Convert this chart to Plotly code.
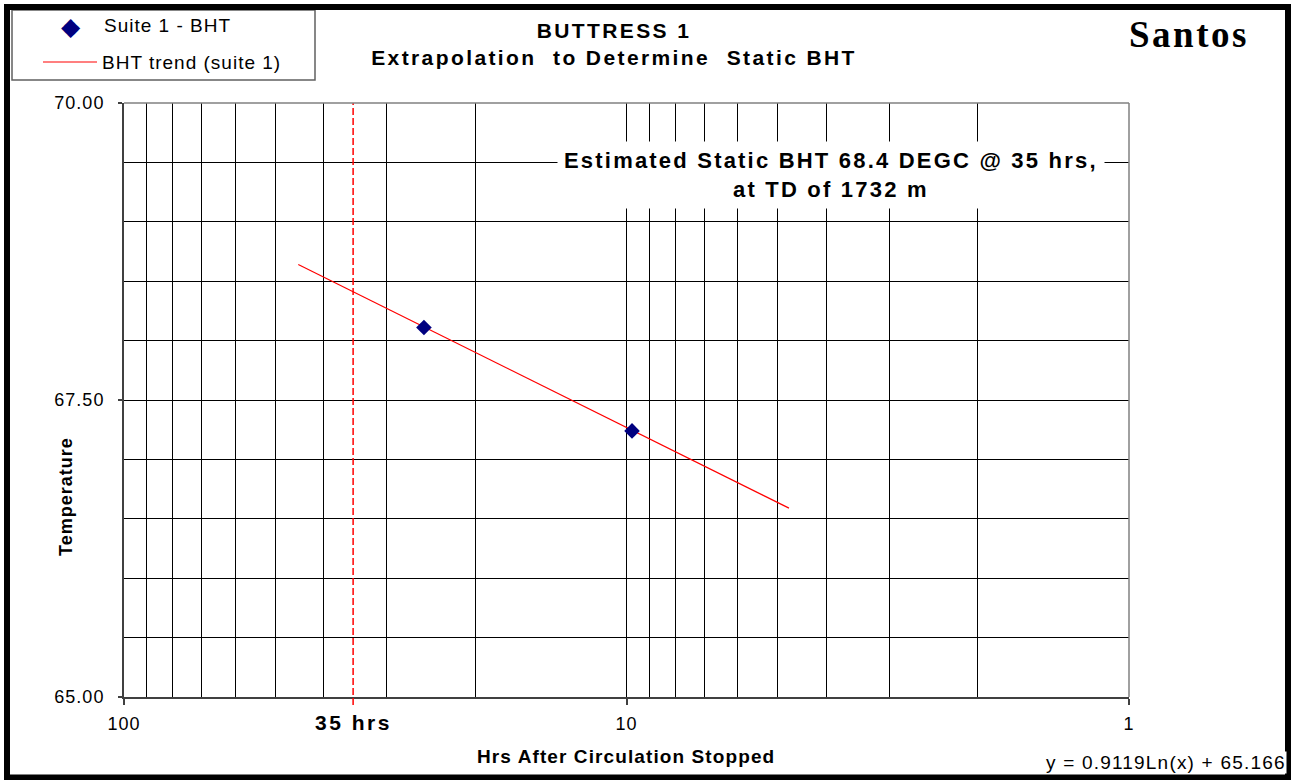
import plotly.graph_objects as go
import math

# ---- data ----
hrs = [25.3, 9.75]                 # Suite 1 - BHT : hours after circulation stopped
bht = [68.11, 67.24]               # Suite 1 - BHT : temperature (DEGC)
trend_hrs = [45.0, 4.75]           # BHT trend (suite 1) extent
trend_bht = [68.64, 66.59]
static_hrs = 35                    # extrapolation time
x_major = [100, 10, 1]
x_major_labels = ["100", "10", "1"]
x_minor = [90, 80, 70, 60, 50, 40, 30, 20, 9, 8, 7, 6, 5, 4, 3, 2]
y_major = [65.0, 67.5, 70.0]
y_major_labels = ["65.00", "67.50", "70.00"]
y_minor = [65.5, 66.0, 66.5, 67.0, 68.0, 68.5, 69.0, 69.5]

title_lines = ["BUTTRESS 1", "Extrapolation\u00a0 to Determine\u00a0 Static BHT"]
note_lines = ["Estimated Static BHT 68.4 DEGC @ 35 hrs,", "at TD of 1732 m"]
equation = "y = 0.9119Ln(x) + 65.166"

SANS = "Liberation Sans, Arial, sans-serif"
SERIF = "Liberation Serif, Times New Roman, serif"

W, H = 1293, 780
L, R, T, B = 124, 1129, 103, 697


def xp(px):
    return (px - L) / (R - L)


def yp(py):
    return (B - py) / (B - T)


def ls(text, px):
    return f"<span style='letter-spacing:{px}px'>{text}</span>"


fig = go.Figure()
fig.add_trace(go.Scatter(x=trend_hrs, y=trend_bht, mode="lines",
                         line=dict(color="#FF0000", width=1.2),
                         name="BHT trend (suite 1)", showlegend=False))
fig.add_trace(go.Scatter(x=hrs, y=bht, mode="markers",
                         marker=dict(symbol="diamond", size=12, color="#000080",
                                     line=dict(color="#000080", width=0)),
                         name="Suite 1 - BHT", showlegend=False))

shapes = [
    # extrapolation line
    dict(type="line", xref="x", yref="paper", x0=static_hrs, x1=static_hrs,
         y0=yp(705), y1=1, line=dict(color="#FF0000", width=1.5, dash="7px,3px")),
    # top/right plot frame (lighter)
    dict(type="line", xref="paper", yref="paper", x0=0, x1=1, y0=1, y1=1,
         line=dict(color="#808080", width=1.5), layer="above"),
    dict(type="line", xref="paper", yref="paper", x0=1, x1=1, y0=0, y1=1,
         line=dict(color="#808080", width=1.5), layer="above"),
    # legend box
    dict(type="rect", xref="paper", yref="paper", x0=xp(12), x1=xp(315),
         y0=yp(80), y1=yp(10), line=dict(color="#606060", width=1.5),
         fillcolor="rgba(0,0,0,0)", layer="above"),
    # legend trend line sample
    dict(type="line", xref="paper", yref="paper", x0=xp(43), x1=xp(97),
         y0=yp(62), y1=yp(62), line=dict(color="#FF0000", width=1.2), layer="above"),
    # outer chart frame
    dict(type="rect", xref="paper", yref="paper", x0=xp(7), x1=xp(1288),
         y0=yp(777.5), y1=yp(7), line=dict(color="black", width=6),
         fillcolor="rgba(0,0,0,0)", layer="above"),
]

annotations = [
    # legend texts
    dict(text="\u25c6", xref="paper", yref="paper", x=xp(71), y=yp(26),
         xanchor="center", yanchor="middle", showarrow=False,
         font=dict(family="DejaVu Sans", size=25, color="#000080")),
    dict(text=ls("Suite 1 - BHT", 1), xref="paper", yref="paper", x=xp(102), y=yp(25),
         xanchor="left", yanchor="middle", showarrow=False,
         font=dict(family=SANS, size=19, color="black")),
    dict(text=ls("BHT trend (suite 1)", 1), xref="paper", yref="paper", x=xp(100), y=yp(62),
         xanchor="left", yanchor="middle", showarrow=False,
         font=dict(family=SANS, size=19, color="black")),
    # Santos
    dict(text=ls("Santos", 2.5), xref="paper", yref="paper", x=xp(1189), y=yp(34),
         xanchor="center", yanchor="middle", showarrow=False,
         font=dict(family=SERIF, size=37, color="black", weight="bold")),
    # note
    dict(text="<br>".join(ls(t, 2.2) for t in note_lines), xref="paper", yref="paper",
         x=xp(831), y=yp(175), xanchor="center", yanchor="middle", showarrow=False,
         align="center", bgcolor="white", borderpad=6,
         font=dict(family=SANS, size=22, color="black", weight="bold")),
    # 35 hrs label
    dict(text=ls("35 hrs", 2.5), xref="x", yref="paper", x=math.log10(static_hrs), y=yp(722),
         xanchor="center", yanchor="middle", showarrow=False,
         font=dict(family=SANS, size=21, color="black", weight="bold")),
    # axis titles
    dict(text=ls("Hrs After Circulation Stopped", 1.1), xref="paper", yref="paper",
         x=xp(626), y=yp(756), xanchor="center", yanchor="middle", showarrow=False,
         font=dict(family=SANS, size=19, color="black", weight="bold")),
    dict(text=ls("Temperature", 1), xref="paper", yref="paper", textangle=-90,
         x=xp(66), y=yp(497), xanchor="center", yanchor="middle", showarrow=False,
         font=dict(family=SANS, size=18, color="black", weight="bold")),
    # trend equation
    dict(text=ls(equation, 1.2), xref="paper", yref="paper", x=xp(1287), y=yp(762),
         xanchor="right", yanchor="middle", showarrow=False, bgcolor="white", borderpad=0,
         font=dict(family=SANS, size=19, color="black")),
]

fig.update_layout(
    width=W, height=H,
    margin=dict(l=L, r=W - R, t=T, b=H - B, pad=0),
    paper_bgcolor="white", plot_bgcolor="white",
    title=dict(text="<br>".join(ls(t, 2.4) for t in title_lines),
               x=614 / W, xanchor="center", xref="container",
               y=1 - 38 / H, yanchor="top", yref="container",
               font=dict(family=SANS, size=21, color="black", weight="bold")),
    shapes=shapes,
    annotations=annotations,
    showlegend=False,
    xaxis=dict(type="log", range=[math.log10(100), math.log10(1)],
               tickmode="array", tickvals=x_major,
               ticktext=[ls(t, 1) for t in x_major_labels],
               ticks="outside", ticklen=6, tickcolor="#404040", tickwidth=1.5,
               tickfont=dict(family=SANS, size=18, color="black"),
               ticklabelstandoff=3,
               showgrid=True, gridcolor="black", gridwidth=1,
               minor=dict(tickmode="array", tickvals=x_minor, showgrid=True,
                          gridcolor="black", gridwidth=1, ticks=""),
               showline=True, linecolor="#404040", linewidth=2,
               zeroline=False, fixedrange=True),
    yaxis=dict(range=[65, 70], tickmode="array", tickvals=y_major,
               ticktext=[ls(t, 1) for t in y_major_labels],
               ticks="outside", ticklen=4, tickcolor="#404040", tickwidth=1.5,
               tickfont=dict(family=SANS, size=18, color="black"),
               ticklabelstandoff=10,
               showgrid=True, gridcolor="black", gridwidth=1,
               minor=dict(tickmode="array", tickvals=y_minor, showgrid=True,
                          gridcolor="black", gridwidth=1, ticks=""),
               showline=True, linecolor="#404040", linewidth=2,
               zeroline=False, fixedrange=True),
)

fig.write_html("out.html", config={"displayModeBar": False},
               post_script="document.body.style.margin='0';document.body.style.overflow='hidden';")
